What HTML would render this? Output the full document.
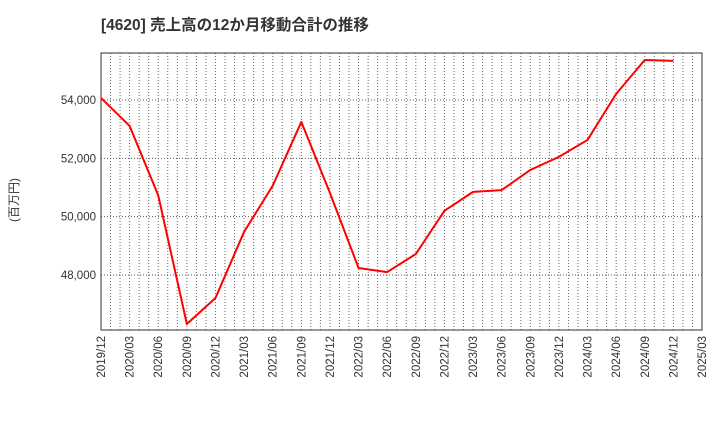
<!DOCTYPE html>
<html><head><meta charset="utf-8"><style>
body{margin:0;background:#fff;width:720px;height:440px;overflow:hidden;font-family:"Liberation Sans","Noto Sans CJK JP",sans-serif;}
</style></head><body>
<svg id="chart" width="720" height="440" xmlns="http://www.w3.org/2000/svg">
<text x="101" y="30" font-size="15.5" font-weight="bold" fill="#333" font-family="Liberation Sans, Noto Sans CJK JP, sans-serif">[4620]  売上高の12か月移動合計の推移</text>
<text transform="translate(18,200) rotate(-90)" text-anchor="middle" font-size="12" fill="#333" font-family="Liberation Sans, Noto Sans CJK JP, sans-serif">(百万円)</text>
<g id="grid"></g><g id="axes"></g><g id="series"></g>
</svg>
<script>
const categories=["2019/12","2020/03","2020/06","2020/09","2020/12","2021/03","2021/06","2021/09","2021/12","2022/03","2022/06","2022/09","2022/12","2023/03","2023/06","2023/09","2023/12","2024/03","2024/06","2024/09","2024/12","2025/03"];
const salesValues=[54070,53110,50730,46320,47210,49480,51060,53250,50810,48240,48100,48720,50200,50850,50910,51600,52050,52630,54210,55370,55340];
const yTicks=[48000,50000,52000,54000];
const yTickLabels=["48,000","50,000","52,000","54,000"];
const L=101,R=702,T=53,B=330,yMin=46114,yMax=55611;
const NS="http://www.w3.org/2000/svg";
const xs=i=>L+(R-L)*i/(categories.length-1);
const ys=v=>B-(v-yMin)/(yMax-yMin)*(B-T);
function mk(tag,attrs,parent){const e=document.createElementNS(NS,tag);for(const k in attrs)e.setAttribute(k,attrs[k]);parent.appendChild(e);return e;}
const grid=document.getElementById('grid'),axes=document.getElementById('axes'),series=document.getElementById('series');
for(let m=1;m<(categories.length-1)*3;m++){
 const x=xs(m/3);
 const g=mk('line',{x1:x,x2:x,y1:T,y2:B,stroke:'#666','stroke-width':1,'stroke-dasharray':'1,2'},grid);
 
 
}
categories.forEach((c,i)=>{
 const x=xs(i);
 const t=mk('text',{transform:`translate(${x+4},${B+6}) rotate(-90)`,'text-anchor':'end','font-size':11.5,fill:'#333'},axes);
 t.textContent=c;
 
 
});
yTicks.forEach((v,i)=>{
 const y=ys(v);
 const g=mk('line',{x1:L,x2:R,y1:y,y2:y,stroke:'#555','stroke-width':1,'stroke-dasharray':'1,2'},grid);
 
 
 const t=mk('text',{x:L-5,y:y+4,'text-anchor':'end','font-size':11.5,fill:'#333'},axes);
 t.textContent=yTickLabels[i];
 
 
});
const frame=mk('rect',{x:L,y:T,width:R-L,height:B-T,fill:'none',stroke:'#333','stroke-width':1},axes);


const pts=salesValues.map((v,i)=>xs(i)+','+ys(v)).join(' ');
const line=mk('polyline',{points:pts,fill:'none',stroke:'#ff0000','stroke-width':2,'stroke-linejoin':'round'},series);


</script>
</body></html>
